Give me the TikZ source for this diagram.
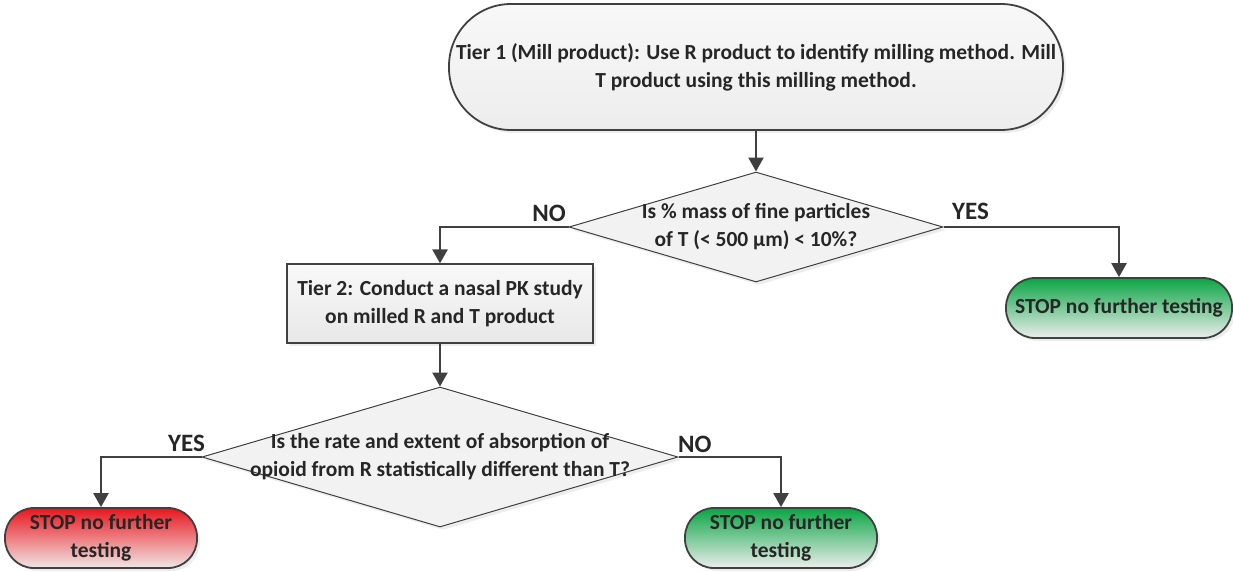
\documentclass[tikz,border=0pt]{standalone}
\usepackage{fontspec}
\setmainfont{Carlito}
\usetikzlibrary{shapes.geometric,arrows.meta,shadows}
\definecolor{ink}{HTML}{404040}
\definecolor{txt}{HTML}{262626}
\definecolor{greentop}{HTML}{0AA544}
\definecolor{greenbot}{HTML}{ECEEEC}
\definecolor{redtop}{HTML}{E8161E}
\definecolor{redbot}{HTML}{F2E6E6}
\definecolor{graytop}{HTML}{F8F8F8}
\definecolor{graybot}{HTML}{E8E8E8}
\begin{document}
\begin{tikzpicture}[x=1pt,y=-1pt,
  shade/.style={drop shadow={shadow xshift=3pt,shadow yshift=-3pt,fill=black!14}},
  body/.style={text=txt,font=\bfseries\fontsize{21.5}{28}\selectfont,align=center,inner sep=0pt},
  terminal/.style={body,shade,draw=ink,line width=1.8pt,rectangle,rounded corners=#1},
  stopgreen/.style={terminal=29,top color=greentop,bottom color=greenbot},
  stopred/.style={terminal=29,top color=redtop,bottom color=redbot},
  procbox/.style={body,shade,draw=ink,line width=1.2pt,rectangle,top color=graytop,bottom color=graybot},
  decision/.style={shade,draw=ink,line width=1pt,diamond,fill=black!5,inner sep=0pt},
  answer/.style={text=txt,font=\bfseries\fontsize{25}{28}\selectfont,inner sep=0pt},
  conn/.style={draw=ink,line width=2.4pt,-{Triangle[width=15pt,length=14pt]}}
]
\useasboundingbox (0,0) rectangle (1233,571);

% Tier 1 terminal
\node[terminal=62,top color=graytop,bottom color=black!7,minimum width=614pt,minimum height=126pt]
  (tier1) at (756,67) {Tier 1 (Mill product): Use R product to identify milling method. Mill\\T product using this milling method.};

% first decision
\node[decision,minimum width=374pt,minimum height=110pt] (d1) at (756,227) {};
\node[body] (d1text) at (d1.center) {Is \% mass of fine particles\\of T (< 500 µm) < 10\%?};

% Tier 2 process
\node[procbox,minimum width=306pt,minimum height=79pt] (tier2) at (440,303.5)
  {Tier 2: Conduct a nasal PK study\\on milled R and T product};

% second decision
\node[decision,minimum width=476pt,minimum height=140pt] (d2) at (440,457) {};
\node[body] (d2text) at (d2.center) {Is the rate and extent of absorption of\\opioid from R statistically different than T?};

% stop terminals
\node[stopgreen,minimum width=226pt,minimum height=60pt] (stopA) at (1119,308) {STOP no further testing};
\node[stopred,minimum width=192pt,minimum height=60pt] (stopB) at (101,538) {STOP no further\\testing};
\node[stopgreen,minimum width=192pt,minimum height=60pt] (stopC) at (781,538) {STOP no further\\testing};

% connectors
\draw[conn] (tier1.south) -- (d1.north);
\draw[conn] (d1.west) -| (tier2.north);
\draw[conn] (d1.east) -| (stopA.north);
\draw[conn] (tier2.south) -- (d2.north);
\draw[conn] (d2.west) -| (stopB.north);
\draw[conn] (d2.east) -| (stopC.north);

% branch labels
\node[answer,anchor=base east] (no1) at (566,221) {NO};
\node[answer,anchor=base west] (yes1) at (952,219) {YES};
\node[answer,anchor=base east] (yes2) at (205,451) {YES};
\node[answer,anchor=base west] (no2) at (678,452) {NO};
\end{tikzpicture}
\end{document}
